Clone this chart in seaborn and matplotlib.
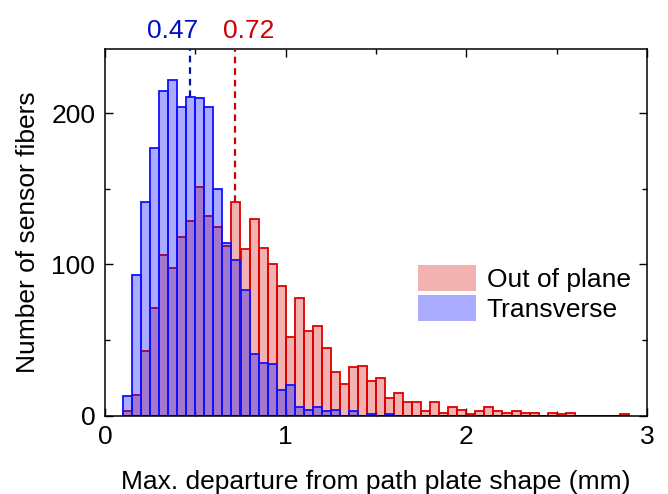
import numpy as np
import pandas as pd
import matplotlib
matplotlib.use("Agg")
import matplotlib.pyplot as plt
from matplotlib.ticker import MultipleLocator
import seaborn as sns

# Histogram bins (mm), 0.05 mm wide, starting at 0.10 mm
bin_start = 0.10
bin_width = 0.05

# Counts per bin, out-of-plane departure
out_of_plane = [3, 14, 43, 71, 106, 98, 118, 129, 151, 132,
                125, 112, 141, 110, 130, 111, 100, 86, 52, 78,
                56, 59, 45, 29, 21, 32, 33, 23, 25, 12,
                15, 9, 9, 3, 9, 2, 6, 4, 1, 3,
                6, 3, 2, 3, 2, 2, 0, 2, 1, 2,
                0, 0, 0, 0, 0, 1]

# Counts per bin, transverse departure
transverse = [13, 93, 141, 177, 215, 222, 204, 211, 210, 204,
              150, 114, 103, 83, 41, 35, 34, 17, 20, 6,
              4, 6, 3, 4, 0, 3, 0, 1, 0, 1]

# Medians
median_transverse = 0.47
median_out_of_plane = 0.72

series_labels = ["Out of plane", "Transverse"]

n_bins = len(out_of_plane)
edges = [round(bin_start + bin_width * i, 4) for i in range(n_bins + 1)]
centers = [(a + b) / 2 for a, b in zip(edges[:-1], edges[1:])]

transverse_full = transverse + [0] * (n_bins - len(transverse))
df = pd.DataFrame({
    "value": centers + centers,
    "count": out_of_plane + transverse_full,
    "series": [series_labels[0]] * n_bins + [series_labels[1]] * n_bins,
})

sns.set_theme(style="ticks")
plt.rcParams["font.family"] = ["Liberation Sans", "DejaVu Sans"]
plt.rcParams["font.size"] = 19
plt.rcParams["axes.linewidth"] = 1.1
for key in ["text.color", "axes.labelcolor", "xtick.color", "ytick.color",
            "axes.edgecolor", "xtick.labelcolor", "ytick.labelcolor"]:
    plt.rcParams[key] = "black"

fig = plt.figure(figsize=(6.68, 4.94), dpi=100)
ax = fig.add_axes([105 / 668, 1 - 415.7 / 494, 542 / 668, 366.7 / 494])

red_edge = "#dd0000"
blue_edge = "#1010ff"
red_face = (0.85, 0.0, 0.0, 0.30)
blue_face = (0.0, 0.0, 1.0, 0.33)

sns.histplot(data=df[df.series == series_labels[0]], x="value", weights="count",
             bins=edges, element="bars", fill=True, ax=ax,
             facecolor=red_face, edgecolor=red_edge, linewidth=1.3,
             label=series_labels[0])
sns.histplot(data=df[df.series == series_labels[1]], x="value", weights="count",
             bins=edges, element="bars", fill=True, ax=ax,
             facecolor=blue_face, edgecolor=blue_edge, linewidth=1.3,
             label=series_labels[1])

ymax = 242.5
ax.set_xlim(0, 3)
ax.set_ylim(0, ymax)


def count_at(x, counts):
    i = int(np.searchsorted(edges, x, side="right") - 1)
    return counts[i] if 0 <= i < len(counts) else 0


# Median markers: dashed from the bar top to the top of the axes
ax.vlines(median_transverse, count_at(median_transverse, transverse_full), ymax,
          colors="#0010b0", linestyles=(0, (3.0, 2.2)), linewidth=1.6, zorder=5)
ax.vlines(median_out_of_plane, count_at(median_out_of_plane, out_of_plane), ymax,
          colors="#cc0000", linestyles=(0, (3.0, 2.2)), linewidth=1.6, zorder=5)

xt = ax.get_xaxis_transform()
ax.annotate(f"{median_transverse:.2f}", xy=(median_transverse - 0.094, 1.0),
            xycoords=xt, xytext=(0, 8), textcoords="offset points",
            ha="center", va="baseline", color="#0010c0", fontsize=19,
            annotation_clip=False)
ax.annotate(f"{median_out_of_plane:.2f}", xy=(median_out_of_plane + 0.077, 1.0),
            xycoords=xt, xytext=(0, 8), textcoords="offset points",
            ha="center", va="baseline", color="#cc0000", fontsize=19,
            annotation_clip=False)

ax.set_xlabel("Max. departure from path plate shape (mm)", fontsize=19, labelpad=15)
ax.set_ylabel("Number of sensor fibers", fontsize=19, labelpad=8)

ax.xaxis.set_major_locator(MultipleLocator(1))
ax.xaxis.set_minor_locator(MultipleLocator(0.5))
ax.yaxis.set_major_locator(MultipleLocator(100))
ax.yaxis.set_minor_locator(MultipleLocator(50))
ax.tick_params(which="both", direction="in", top=True, right=True,
               labelsize=19, color="black", labelcolor="black", width=1.0)
ax.tick_params(which="major", length=6, pad=7)
ax.tick_params(which="minor", length=3.5)
for s in ax.spines.values():
    s.set_color("black")
    s.set_linewidth(1.1)

leg = ax.legend(loc="upper left", bbox_to_anchor=(0.5775, 0.412),
                frameon=False, fontsize=19, handlelength=2.2, handleheight=1.15,
                handletextpad=0.4, labelspacing=0.12, borderpad=0,
                borderaxespad=0)
for h in leg.legend_handles:
    h.set_edgecolor("none")
for t in leg.get_texts():
    t.set_color("black")

fig.savefig("out.png", dpi=100)
